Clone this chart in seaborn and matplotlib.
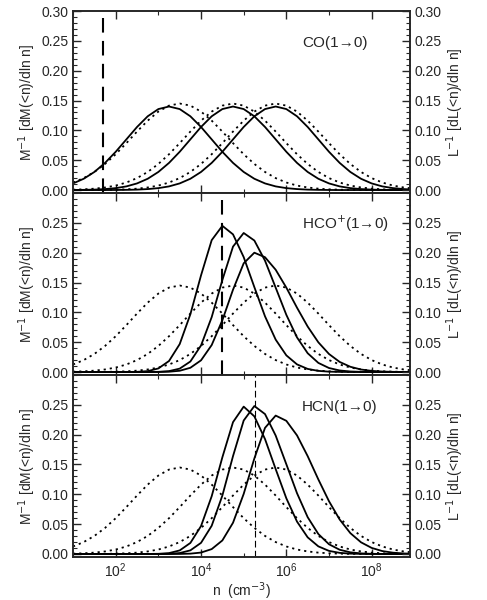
import numpy as np
import pandas as pd
import seaborn as sns
import matplotlib.pyplot as plt
from matplotlib.ticker import MultipleLocator, LogLocator, NullFormatter

# log10 n grid, 1.0 .. 9.0 step 0.25
log_n = [1.0 + 0.25 * i for i in range(33)]

# mass-weighted distributions (dotted), same in all panels
mass_a = [0.0126, 0.020, 0.0303, 0.0437, 0.060, 0.0786, 0.098, 0.1163, 0.1315, 0.1415, 0.145,
          0.1415, 0.1315, 0.1163, 0.098, 0.0786, 0.060, 0.0437, 0.0303, 0.020, 0.0126, 0.0075,
          0.0043, 0.0023, 0.0012, 0.0006, 0.0002, 0.0001, 0, 0, 0, 0, 0]
mass_b = [0.0006, 0.0012, 0.0023, 0.0043, 0.0075, 0.0126, 0.020, 0.0303, 0.0437, 0.060, 0.0786,
          0.098, 0.1163, 0.1315, 0.1415, 0.145, 0.1415, 0.1315, 0.1163, 0.098, 0.0786, 0.060,
          0.0437, 0.0303, 0.020, 0.0126, 0.0075, 0.0043, 0.0023, 0.0012, 0.0006, 0.0002, 0.0001]
mass_c = [0, 0, 0.0001, 0.0002, 0.0006, 0.0012, 0.0023, 0.0043, 0.0075, 0.0126, 0.020, 0.0303,
          0.0437, 0.060, 0.0786, 0.098, 0.1163, 0.1315, 0.1415, 0.145, 0.1415, 0.1315, 0.1163,
          0.098, 0.0786, 0.060, 0.0437, 0.0303, 0.020, 0.0126, 0.0075, 0.0043, 0.0023]

# luminosity-weighted distributions (solid)
co_a = [0.0111, 0.0189, 0.0303, 0.0455, 0.0641, 0.0849, 0.1057, 0.1236, 0.1357, 0.14, 0.1357,
        0.1236, 0.1057, 0.0849, 0.0641, 0.0455, 0.0303, 0.0189, 0.0111, 0.0061, 0.0032, 0.0016,
        0.0007, 0.0003, 0.0001, 0, 0, 0, 0, 0, 0, 0, 0]
co_b = [0.0001, 0.0003, 0.0007, 0.0016, 0.0032, 0.0061, 0.0111, 0.0189, 0.0303, 0.0455, 0.0641,
        0.0849, 0.1057, 0.1236, 0.1357, 0.14, 0.1357, 0.1236, 0.1057, 0.0849, 0.0641, 0.0455,
        0.0303, 0.0189, 0.0111, 0.0061, 0.0032, 0.0016, 0.0007, 0.0003, 0.0001, 0, 0]
co_c = [0, 0, 0, 0, 0.0001, 0.0003, 0.0007, 0.0016, 0.0032, 0.0061, 0.0111, 0.0189, 0.0303,
        0.0455, 0.0641, 0.0849, 0.1057, 0.1236, 0.1357, 0.14, 0.1357, 0.1236, 0.1057, 0.0849,
        0.0641, 0.0455, 0.0303, 0.0189, 0.0111, 0.0061, 0.0032, 0.0016, 0.0007]

hco_a = [0, 0, 0, 0, 0, 0.0001, 0.0003, 0.0015, 0.006, 0.0185, 0.0468, 0.0968, 0.162, 0.221,
         0.245, 0.2307, 0.1926, 0.1423, 0.0933, 0.0543, 0.0279, 0.0128, 0.0052, 0.0019, 0.0006,
         0.0002, 0, 0, 0, 0, 0, 0, 0]
hco_b = [0, 0, 0, 0, 0, 0, 0, 0, 0.0003, 0.0015, 0.0057, 0.0176, 0.0445, 0.092, 0.1542, 0.2102,
         0.233, 0.2204, 0.1866, 0.1414, 0.0958, 0.058, 0.0315, 0.0153, 0.0067, 0.0026, 0.0009,
         0.0003, 0.0001, 0, 0, 0, 0]
hco_c = [0, 0, 0, 0, 0, 0, 0, 0, 0.0001, 0.0005, 0.0021, 0.0071, 0.0196, 0.0452, 0.0868, 0.138,
         0.1822, 0.2, 0.1924, 0.1714, 0.1414, 0.1078, 0.0762, 0.0498, 0.0302, 0.0169, 0.0088,
         0.0042, 0.0019, 0.0008, 0.0003, 0.0001, 0]

hcn_a = [0, 0, 0, 0, 0, 0, 0, 0.0001, 0.0003, 0.0015, 0.006, 0.0185, 0.0468, 0.0968, 0.162,
         0.221, 0.247, 0.2307, 0.1926, 0.1423, 0.0933, 0.0543, 0.0279, 0.0128, 0.0052, 0.0019,
         0.0006, 0.0002, 0, 0, 0, 0, 0]
hcn_b = [0, 0, 0, 0, 0, 0, 0, 0, 0, 0.0003, 0.0016, 0.0061, 0.0187, 0.0473, 0.0979, 0.1641,
         0.2237, 0.248, 0.2345, 0.1985, 0.1504, 0.1019, 0.0617, 0.0335, 0.0163, 0.0071, 0.0028,
         0.001, 0.0003, 0.0001, 0, 0, 0]
hcn_c = [0, 0, 0, 0, 0, 0, 0, 0, 0, 0, 0.0001, 0.0006, 0.0024, 0.0082, 0.0227, 0.0524, 0.1007,
         0.1601, 0.2114, 0.232, 0.2232, 0.1988, 0.164, 0.125, 0.0884, 0.0578, 0.035, 0.0196,
         0.0102, 0.0049, 0.0022, 0.0009, 0.0003]

panels = [
    ("CO(1→0)", [co_a, co_b, co_c], 10 ** 1.7, (7, 4), 1.5),
    ("HCO$^{+}$(1→0)", [hco_a, hco_b, hco_c], 10 ** 4.5, (7, 4), 1.5),
    ("HCN(1→0)", [hcn_a, hcn_b, hcn_c], 10 ** 5.27, (6, 3), 0.8),
]

sns.set_style("white")
plt.rcParams['font.family'] = ['Liberation Sans', 'DejaVu Sans']
plt.rcParams['font.size'] = 10

fig = plt.figure(figsize=(4.87, 6.0), dpi=100)
n = np.power(10.0, log_n)
h = 0.3033
for k, (label, lums, xcrit, dash, lw) in enumerate(panels):
    ax = fig.add_axes([0.15, 0.0717 + (2 - k) * h, 0.692, h])
    for m in [mass_a, mass_b, mass_c]:
        sns.lineplot(x=n, y=m, ax=ax, color='black', lw=1.3, linestyle=(0, (1.2, 2.2)))
    for l in lums:
        sns.lineplot(x=n, y=l, ax=ax, color='black', lw=1.3)
    ax.axvline(xcrit, color='black', lw=lw, dashes=dash)
    ax.set_xscale('log')
    ax.set_xlim(10, 10 ** 8.9)
    ax.set_ylim(-0.005, 0.30)
    ax.text(0.68, 0.80, label, transform=ax.transAxes, fontsize=11)
    top = 0.301 if k == 0 else 0.26
    yt = np.arange(0, top, 0.05)
    ax.xaxis.set_major_locator(LogLocator(base=100))
    ax.xaxis.set_minor_locator(LogLocator(base=10, subs=(1.0,), numticks=20))
    ax.xaxis.set_minor_formatter(NullFormatter())
    ax2 = ax.twinx()
    ax2.set_ylim(ax.get_ylim())
    for a in (ax, a2 := ax2):
        a.set_yticks(yt)
        a.set_yticklabels(["%.2f" % v for v in yt])
        a.yaxis.set_minor_locator(MultipleLocator(0.01))
        a.tick_params(which='both', direction='in')
        a.tick_params(which='major', length=6, width=1)
        a.tick_params(which='minor', length=3, width=0.8)
    ax.tick_params(axis='x', which='both', top=True, bottom=True)
    ax.set_ylabel("M$^{-1}$ [dM(<n)/dln n]", labelpad=2)
    ax2.set_ylabel("L$^{-1}$ [dL(<n)/dln n]", labelpad=2)
    for a in (ax, ax2):
        for s in a.spines.values():
            s.set_linewidth(1.2)
    if k < 2:
        ax.set_xticklabels([])
    else:
        ax.set_xlabel("n  (cm$^{-3}$)", labelpad=0)

fig.savefig("out.png", dpi=100)
